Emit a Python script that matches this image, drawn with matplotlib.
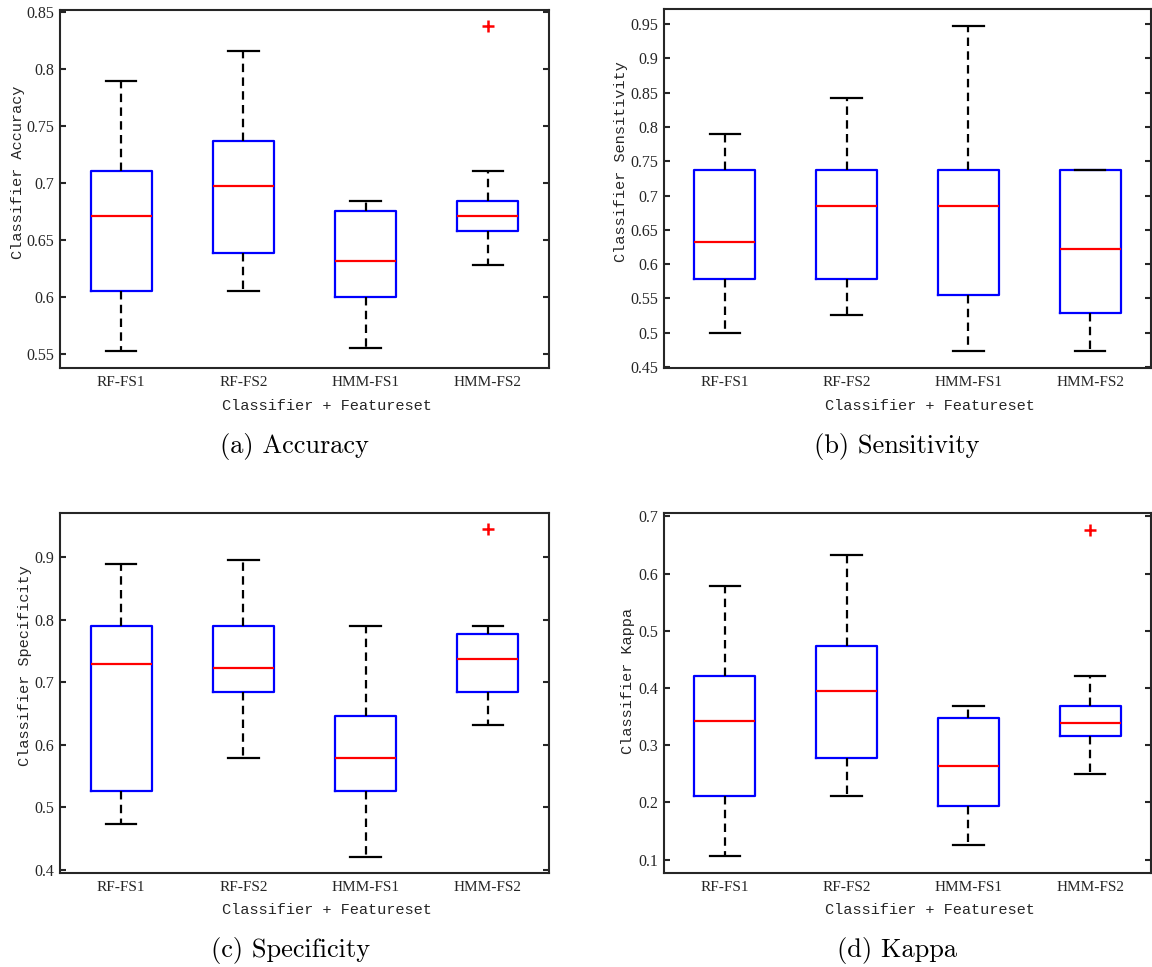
import matplotlib
matplotlib.use('Agg')
import matplotlib.pyplot as plt
from matplotlib.ticker import FuncFormatter

labels = ['RF-FS1', 'RF-FS2', 'HMM-FS1', 'HMM-FS2']

# (a) accuracy box stats
acc_lo = [0.5526, 0.6053, 0.5553, 0.6283]
acc_q1 = [0.6053, 0.6389, 0.6000, 0.6579]
acc_med = [0.6711, 0.6974, 0.6316, 0.6711]
acc_q3 = [0.7105, 0.7368, 0.6757, 0.6842]
acc_hi = [0.7895, 0.8158, 0.6842, 0.7105]
acc_out = [[], [], [], [0.8378]]

# (b) sensitivity
sen_lo = [0.5000, 0.5263, 0.4737, 0.4737]
sen_q1 = [0.5789, 0.5789, 0.5556, 0.5294]
sen_med = [0.6316, 0.6842, 0.6842, 0.6218]
sen_q3 = [0.7368, 0.7368, 0.7368, 0.7368]
sen_hi = [0.7895, 0.8421, 0.9474, 0.7368]
sen_out = [[], [], [], []]

# (c) specificity
spe_lo = [0.4737, 0.5789, 0.4211, 0.6316]
spe_q1 = [0.5263, 0.6842, 0.5263, 0.6842]
spe_med = [0.7294, 0.7219, 0.5789, 0.7368]
spe_q3 = [0.7895, 0.7895, 0.6465, 0.7778]
spe_hi = [0.8889, 0.8947, 0.7895, 0.7895]
spe_out = [[], [], [], [0.9444]]

# (d) kappa
kap_lo = [0.1055, 0.2106, 0.1248, 0.2503]
kap_q1 = [0.2106, 0.2778, 0.1943, 0.3157]
kap_med = [0.3420, 0.3946, 0.2632, 0.3391]
kap_q3 = [0.4214, 0.4734, 0.3467, 0.3683]
kap_hi = [0.5785, 0.6317, 0.3683, 0.4214]
kap_out = [[], [], [], [0.6766]]

acc_ticks = [0.55, 0.6, 0.65, 0.7, 0.75, 0.8, 0.85]
sen_ticks = [0.45, 0.5, 0.55, 0.6, 0.65, 0.7, 0.75, 0.8, 0.85, 0.9, 0.95]
spe_ticks = [0.4, 0.5, 0.6, 0.7, 0.8, 0.9]
kap_ticks = [0.1, 0.2, 0.3, 0.4, 0.5, 0.6, 0.7]

AX_COL = '#262626'


def make_stats(lo, q1, med, q3, hi, out):
    stats = []
    for i in range(len(labels)):
        stats.append({'whislo': lo[i], 'q1': q1[i], 'med': med[i], 'q3': q3[i],
                      'whishi': hi[i], 'fliers': out[i], 'label': labels[i]})
    return stats


def draw_panel(ax, stats, ylim, yticks, ylabel, ylab_pos, xlab_pos):
    ax.bxp(stats, positions=[1, 2, 3, 4], widths=0.5, showfliers=True,
           boxprops=dict(color='blue', linewidth=1.6),
           medianprops=dict(color='red', linewidth=1.6),
           whiskerprops=dict(color='black', linewidth=1.6, linestyle=(0, (3.8, 2.4))),
           capprops=dict(color='black', linewidth=1.6),
           capwidths=0.25,
           flierprops=dict(marker='+', markeredgecolor='red', markersize=8,
                           markeredgewidth=1.8, linestyle='none'))
    ax.set_xlim(0.5, 4.5)
    ax.set_ylim(*ylim)
    ax.set_yticks(yticks)
    ax.yaxis.set_major_formatter(FuncFormatter(lambda v, p: '%g' % round(v, 3)))
    for s in ax.spines.values():
        s.set_color(AX_COL)
        s.set_linewidth(1.5)
    ax.tick_params(axis='y', direction='in', length=4.5, width=1.5, right=True,
                   left=True, pad=4, colors=AX_COL, labelsize=11.5)
    ax.tick_params(axis='x', length=0, pad=6, colors=AX_COL, labelsize=11)
    for t in ax.get_xticklabels() + ax.get_yticklabels():
        t.set_fontfamily('Liberation Serif')
        t.set_color(AX_COL)
    ax.set_ylabel(ylabel, fontfamily='Liberation Mono', fontsize=11, color=AX_COL,
                  va='center')
    ax.yaxis.set_label_coords(*ylab_pos)
    ax.set_xlabel('Classifier + Featureset', fontfamily='Liberation Mono',
                  fontsize=11, color=AX_COL, va='center')
    ax.xaxis.set_label_coords(*xlab_pos)


fig = plt.figure(figsize=(11.52, 9.67), dpi=100)
ax_a = fig.add_axes([0.0521, 0.6194, 0.4245, 0.3707])
ax_b = fig.add_axes([0.5764, 0.6194, 0.4227, 0.3712])
ax_c = fig.add_axes([0.0521, 0.0972, 0.4245, 0.3723])
ax_d = fig.add_axes([0.5764, 0.0972, 0.4227, 0.3723])

draw_panel(ax_a, make_stats(acc_lo, acc_q1, acc_med, acc_q3, acc_hi, acc_out),
           (0.5377, 0.852), acc_ticks, 'Classifier Accuracy', (-0.086, 0.547), (0.546, -0.106))
draw_panel(ax_b, make_stats(sen_lo, sen_q1, sen_med, sen_q3, sen_hi, sen_out),
           (0.4485, 0.9719), sen_ticks, 'Classifier Sensitivity', (-0.088, 0.574), (0.546, -0.106))
draw_panel(ax_c, make_stats(spe_lo, spe_q1, spe_med, spe_q3, spe_hi, spe_out),
           (0.3947, 0.9706), spe_ticks, 'Classifier Specificity', (-0.072, 0.575), (0.546, -0.103))
draw_panel(ax_d, make_stats(kap_lo, kap_q1, kap_med, kap_q3, kap_hi, kap_out),
           (0.0766, 0.7058), kap_ticks, 'Classifier Kappa', (-0.074, 0.533), (0.546, -0.103))

# sub-captions
cap_kw = dict(fontfamily='cmr10', fontsize=19, ha='center', va='center', color='black')
fig.text(294 / 1152, 1 - 446 / 967, '(a) Accuracy', **cap_kw)
fig.text(897 / 1152, 1 - 446 / 967, '(b) Sensitivity', **cap_kw)
fig.text(291 / 1152, 1 - 950 / 967, '(c) Specificity', **cap_kw)
fig.text(897 / 1152, 1 - 950 / 967, '(d) Kappa', **cap_kw)

fig.savefig('out.png', dpi=100)
